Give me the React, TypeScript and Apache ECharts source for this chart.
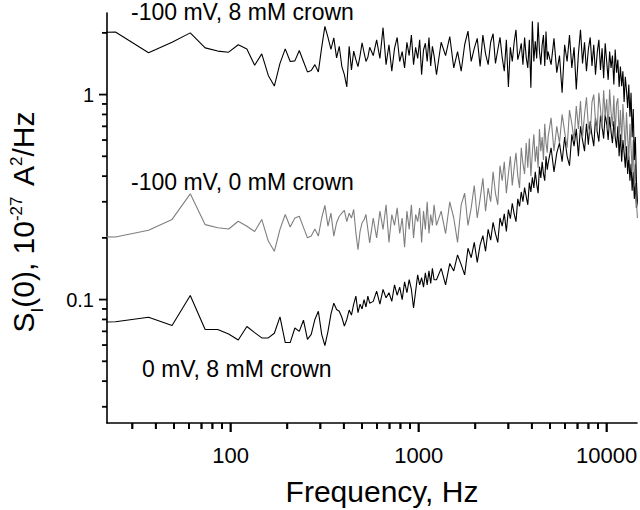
import React, { useEffect, useRef } from "react";
import * as echarts from "echarts";

const FONT = "'Liberation Sans', Arial, Helvetica, sans-serif";

// FFT bins (12.2 Hz spacing); runs of [firstBin, lastBin, stride]
const BIN_HZ = 12.2;
const BIN_RUNS: [number, number, number][] = [
  [1, 45, 1],
  [47, 99, 2],
  [102, 396, 6],
  [400, 1195, 15],
];
const FREQ_HZ: number[] = BIN_RUNS.flatMap(([a, b, s]) => {
  const out: number[] = [];
  for (let k = a; k <= b; k += s) out.push(Math.round(k * BIN_HZ * 10) / 10);
  return out;
});

// -100 mV, 8 mM crown (black, top)
const TOP_A = [1.98, 2.02, 1.6, 1.8, 2.0, 1.69, 1.63, 1.61, 1.75, 1.67, 1.39, 1.58, 1.24, 1.1, 1.42, 1.67, 1.45, 1.46, 1.64, 1.45, 1.29, 1.31, 1.4, 1.29, 1.7, 2.15, 1.9, 1.66, 1.89, 1.51, 1.72, 1.37, 1.25, 1.09, 1.72, 1.32, 1.63, 1.48, 1.37, 1.55, 1.79, 1.6, 1.45, 1.52, 1.7];
const TOP_B = [1.55, 1.85, 1.5, 2.12, 1.4, 1.75, 1.3, 1.68, 1.9, 1.45, 1.62, 1.35, 1.8, 1.55, 1.95, 1.4, 1.7, 1.5, 1.85, 1.25, 1.65, 1.78, 1.45, 1.9, 1.38, 1.72, 1.55];
const TOP_C = [1.25, 1.8, 1.55, 1.92, 1.35, 1.62, 1.3, 1.75, 2.04, 1.45, 1.68, 1.88, 1.37, 1.95, 1.58, 1.4, 1.8, 1.98, 1.42, 1.65, 1.9, 1.52, 1.3, 1.85, 1.09, 1.7, 1.45, 1.8, 2.07, 1.48, 1.6, 1.78, 1.4, 1.9, 1.52, 1.35, 1.85, 1.08, 2.28, 1.45, 1.82, 1.5, 2.25, 1.62, 1.4, 1.75, 1.95, 1.38, 2.03, 1.48];
const TOP_D = [1.62, 1.4, 1.88, 1.28, 1.55, 1.02, 1.75, 1.45, 1.95, 1.35, 1.7, 1.06, 1.58, 2.07, 1.42, 1.8, 1.3, 1.66, 1.9, 1.38, 1.75, 1.25, 1.6, 1.85, 1.32, 1.68, 1.2, 1.78, 1.45, 1.18, 1.62, 1.35, 1.55, 1.12, 1.66, 1.28, 1.48, 1.09, 1.37, 1.1, 1.3, 0.92, 1.22, 1.05, 0.86, 1.12, 0.78, 1.02, 0.62, 0.85, 0.48, 0.62, 0.38, 0.3];

// -100 mV, 0 mM crown (grey)
const GREY_A = [0.204, 0.202, 0.218, 0.246, 0.328, 0.232, 0.224, 0.221, 0.241, 0.228, 0.215, 0.246, 0.193, 0.172, 0.22, 0.26, 0.226, 0.25, 0.255, 0.225, 0.2, 0.204, 0.221, 0.204, 0.25, 0.288, 0.228, 0.264, 0.204, 0.237, 0.255, 0.264, 0.272, 0.24, 0.264, 0.25, 0.275, 0.212, 0.175, 0.215, 0.237, 0.245, 0.26, 0.22, 0.189];
const GREY_B = [0.25, 0.2, 0.27, 0.22, 0.29, 0.19, 0.26, 0.23, 0.28, 0.21, 0.25, 0.18, 0.27, 0.22, 0.29, 0.2, 0.26, 0.24, 0.28, 0.19, 0.27, 0.22, 0.3, 0.21, 0.26, 0.23, 0.29];
const GREY_C = [0.23, 0.27, 0.21, 0.3, 0.25, 0.19, 0.29, 0.33, 0.23, 0.28, 0.36, 0.25, 0.31, 0.39, 0.27, 0.35, 0.3, 0.42, 0.33, 0.29, 0.45, 0.38, 0.47, 0.33, 0.41, 0.5, 0.36, 0.44, 0.52, 0.4, 0.35, 0.55, 0.46, 0.41, 0.58, 0.44, 0.61, 0.4, 0.52, 0.64, 0.47, 0.56, 0.44, 0.68, 0.53, 0.62, 0.48, 0.72, 0.58, 0.52];
const GREY_D = [0.62, 0.77, 0.53, 0.7, 0.58, 0.8, 0.66, 0.55, 0.84, 0.72, 0.6, 0.88, 0.68, 0.93, 0.62, 0.8, 0.97, 0.7, 0.64, 0.92, 1.0, 0.74, 0.66, 1.02, 0.85, 0.68, 1.05, 0.78, 0.95, 0.67, 1.06, 0.82, 0.7, 0.99, 0.64, 0.9, 0.96, 0.62, 0.84, 0.58, 0.9, 0.7, 0.53, 0.82, 0.62, 0.48, 0.72, 0.55, 0.42, 0.6, 0.36, 0.46, 0.3, 0.25];

// 0 mV, 8 mM crown (black, lower)
const LOW_A = [0.0765, 0.078, 0.082, 0.0747, 0.1046, 0.0714, 0.0714, 0.068, 0.0635, 0.0739, 0.069, 0.065, 0.065, 0.0685, 0.0824, 0.0617, 0.0617, 0.0727, 0.07, 0.0793, 0.064, 0.0676, 0.08, 0.0877, 0.0676, 0.0596, 0.07, 0.085, 0.096, 0.0895, 0.0877, 0.082, 0.0742, 0.08, 0.0889, 0.084, 0.095, 0.104, 0.0863, 0.095, 0.09, 0.1, 0.092, 0.104, 0.096];
const LOW_B = [0.098, 0.11, 0.095, 0.112, 0.102, 0.108, 0.098, 0.118, 0.105, 0.115, 0.1, 0.122, 0.108, 0.125, 0.112, 0.091, 0.11, 0.132, 0.118, 0.128, 0.115, 0.135, 0.118, 0.138, 0.12, 0.142, 0.125];
const LOW_C = [0.125, 0.142, 0.118, 0.15, 0.138, 0.165, 0.148, 0.132, 0.178, 0.16, 0.19, 0.152, 0.185, 0.205, 0.172, 0.22, 0.195, 0.238, 0.21, 0.19, 0.25, 0.228, 0.262, 0.215, 0.275, 0.248, 0.295, 0.262, 0.24, 0.31, 0.285, 0.335, 0.3, 0.352, 0.318, 0.29, 0.372, 0.335, 0.395, 0.35, 0.42, 0.365, 0.33, 0.445, 0.392, 0.47, 0.41, 0.38, 0.5, 0.43];
const LOW_D = [0.46, 0.55, 0.42, 0.52, 0.58, 0.47, 0.62, 0.5, 0.45, 0.64, 0.56, 0.68, 0.5, 0.7, 0.6, 0.53, 0.72, 0.57, 0.74, 0.63, 0.56, 0.77, 0.66, 0.59, 0.79, 0.7, 0.61, 0.8, 0.72, 0.6, 0.78, 0.66, 0.58, 0.74, 0.62, 0.55, 0.7, 0.5, 0.64, 0.47, 0.6, 0.52, 0.44, 0.56, 0.41, 0.5, 0.38, 0.46, 0.34, 0.42, 0.31, 0.37, 0.28, 0.3];

const SERIES_NAMES = ["0 mV, 8 mM crown", "-100 mV, 0 mM crown", "-100 mV, 8 mM crown"];

const X_MIN = 22;
const X_MAX = 14500;
const Y_MIN = 0.025;
const Y_MAX = 2.5;
const X_MAJOR = [100, 1000, 10000];
const X_MINOR = [30, 40, 50, 60, 70, 80, 90, 200, 300, 400, 500, 600, 700, 800, 900, 2000, 3000, 4000, 5000, 6000, 7000, 8000, 9000];
const Y_MAJOR = [0.1, 1];
const Y_MINOR = [0.03, 0.04, 0.05, 0.06, 0.07, 0.08, 0.09, 0.2, 0.3, 0.4, 0.5, 0.6, 0.7, 0.8, 0.9, 2];

const pair = (vals: number[]) => FREQ_HZ.map((f, i) => [f, vals[i]]);

export default function App() {
  const ref = useRef<HTMLDivElement>(null);
  useEffect(() => {
    if (!ref.current) return;
    const chart = echarts.init(ref.current, undefined, { renderer: "svg" });
    const axisLine = { show: true, lineStyle: { color: "#000", width: 1.6 } };
    const lineSeries = (name: string, data: any[], color: string) => ({
      name,
      type: "line",
      data,
      showSymbol: false,
      symbol: "none",
      lineStyle: { color, width: 1.1 },
      silent: true,
      clip: true,
    });
    const option: any = {
      animation: false,
      backgroundColor: "#fff",
      grid: { left: 107, right: 3, top: 13, bottom: 87, containLabel: false, outerBoundsMode: "none" },
      xAxis: {
        type: "log",
        logBase: 10,
        min: X_MIN,
        max: X_MAX,
        splitLine: { show: false },
        axisLine,
        axisTick: { show: false },
        axisLabel: {
          show: true,
          customValues: X_MAJOR,
          margin: 21,
          color: "#000",
          fontSize: 22,
          fontFamily: FONT,
          formatter: (v: number) => String(Math.round(v)),
        },
        name: "Frequency, Hz",
        nameLocation: "middle",
        nameGap: 53,
        nameTextStyle: { fontSize: 30, fontFamily: FONT, color: "#000", padding: [0, 0, 0, 20] },
      },
      yAxis: {
        type: "log",
        logBase: 10,
        min: Y_MIN,
        max: Y_MAX,
        splitLine: { show: false },
        axisLine,
        axisTick: { show: false },
        axisLabel: {
          show: true,
          customValues: Y_MAJOR,
          margin: 13,
          color: "#000",
          fontSize: 20,
          fontFamily: FONT,
          formatter: (v: number) => (v < 0.5 ? "0.1" : "1"),
        },
        name: "{a|S}{sub|I}{a|(0), 10}{sup|-27}{gap| }{a|A}{sup|2}{a|/Hz}",
        nameLocation: "middle",
        nameRotate: 90,
        nameGap: 61,
        nameTextStyle: {
          color: "#000",
          fontFamily: FONT,
          padding: [0, 8, 0, 0],
          rich: {
            a: { fontSize: 30, verticalAlign: "top", fontFamily: FONT, color: "#000" },
            gap: { fontSize: 38, verticalAlign: "top", fontFamily: FONT, color: "rgba(0,0,0,0)" },
            sub: { fontSize: 17, verticalAlign: "bottom", fontFamily: FONT, color: "#000" },
            sup: { fontSize: 17, verticalAlign: "top", fontFamily: FONT, color: "#000" },
          },
        },
      },
      series: [
        lineSeries(SERIES_NAMES[0], pair([...LOW_A, ...LOW_B, ...LOW_C, ...LOW_D]), "#000"),
        lineSeries(SERIES_NAMES[1], pair([...GREY_A, ...GREY_B, ...GREY_C, ...GREY_D]), "#7f7f7f"),
        lineSeries(SERIES_NAMES[2], pair([...TOP_A, ...TOP_B, ...TOP_C, ...TOP_D]), "#000"),
      ],
    };
    chart.setOption(option);

    // tick marks: positions found through the chart's own axis scales
    const pt = (x: number, y: number): number[] => chart.convertToPixel({ gridIndex: 0 }, [x, y]) as any;
    const fromPx = (x: number, y: number): number[] => chart.convertFromPixel({ gridIndex: 0 }, [x, y]) as any;
    const o = pt(X_MIN, Y_MIN);
    const TW = 1.8;
    const xTickData: any[] = [];
    const yTickData: any[] = [];
    const tickRects: any[] = [];
    const addX = (v: number, len: number) => {
      const p = pt(v, Y_MIN);
      const end = fromPx(p[0], o[1] + len);
      xTickData.push([v, Y_MIN], [v, end[1]], "-");
      tickRects.push({ type: "rect", silent: true, z: 100, shape: { x: p[0] - TW / 2, y: o[1], width: TW, height: len }, style: { fill: "#000" } });
    };
    const addY = (v: number, len: number) => {
      const p = pt(X_MIN, v);
      const end = fromPx(o[0] - len, p[1]);
      yTickData.push([X_MIN, v], [end[0], v], "-");
      tickRects.push({ type: "rect", silent: true, z: 100, shape: { x: o[0] - len, y: p[1] - TW / 2, width: len, height: TW }, style: { fill: "#000" } });
    };
    X_MAJOR.forEach((v) => addX(v, 9));
    X_MINOR.forEach((v) => addX(v, 6));
    Y_MAJOR.forEach((v) => addY(v, 8));
    Y_MINOR.forEach((v) => addY(v, 5));
    const tickSeries = (data: any[]) => ({
      type: "line",
      data,
      showSymbol: false,
      symbol: "none",
      connectNulls: false,
      clip: false,
      silent: true,
      z: 20,
      lineStyle: { color: "#000", width: TW },
    });

    chart.setOption({
      series: [...option.series, tickSeries(xTickData), tickSeries(yTickData)],
      graphic: [
        { type: "text", left: 131, top: 0, style: { text: SERIES_NAMES[2], font: `23px ${FONT}`, fill: "#000" } },
        { type: "text", left: 131, top: 170, style: { text: SERIES_NAMES[1], font: `23px ${FONT}`, fill: "#000" } },
        { type: "text", left: 142, top: 357, style: { text: SERIES_NAMES[0], font: `23px ${FONT}`, fill: "#000" } },
        ...tickRects,
      ],
    });
    return () => chart.dispose();
  }, []);
  return (
    <div
      ref={ref}
      style={{ position: "fixed", left: 0, top: 0, width: 640, height: 510, background: "#fff" }}
    />
  );
}
